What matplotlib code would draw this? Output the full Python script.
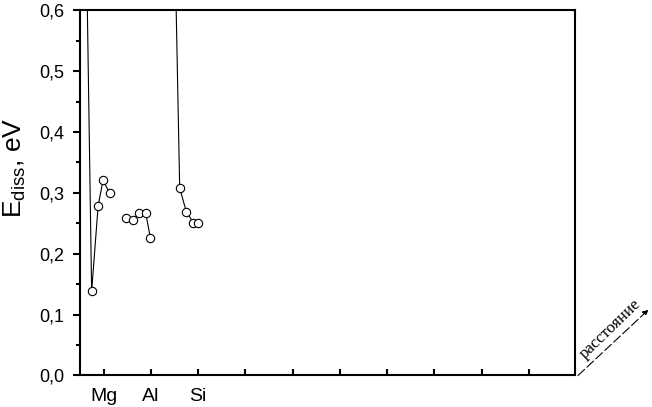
#!/usr/bin/env python3

# dissociation energy vs distance for Mg, Al, Si

import matplotlib
matplotlib.use("Agg")
import matplotlib.pyplot as plt
from matplotlib.ticker import MultipleLocator, FuncFormatter

plt.rcParams['font.family'] = ['Liberation Sans', 'DejaVu Sans']
plt.rcParams['mathtext.default'] = 'regular'

# first point of Mg and Si groups lies above the plotted range
mg_x = [0.61, 0.746, 0.884, 0.989, 1.127]
mg_y = [0.83, 0.138, 0.279, 0.321, 0.299]

al_x = [1.48, 1.63, 1.74, 1.89, 1.99]
al_y = [0.259, 0.255, 0.267, 0.267, 0.226]

si_x = [2.48, 2.61, 2.75, 2.90, 2.99]
si_y = [0.82, 0.308, 0.269, 0.251, 0.250]

tick_pos = list(range(1, 11))
tick_labels = ["Mg", "Al", "Si"] + [""] * 7

fig = plt.figure(figsize=(6.52, 4.07), dpi=100)
ax = fig.add_axes([0.122, 0.0774, 0.76, 0.8976])

for xs, ys in [(mg_x, mg_y), (al_x, al_y), (si_x, si_y)]:
	ax.plot(xs, ys, color="black", linewidth=0.8, marker="o", markersize=6,
		markerfacecolor="white", markeredgecolor="black", markeredgewidth=0.8)

ax.set_xlim(0.49, 10.98)
ax.set_ylim(0.0, 0.6)

ax.set_xticks(tick_pos)
ax.set_xticklabels(tick_labels)
ax.yaxis.set_major_locator(MultipleLocator(0.1))
ax.yaxis.set_minor_locator(MultipleLocator(0.05))
ax.yaxis.set_major_formatter(FuncFormatter(lambda v, p: ("%.1f" % v).replace(".", ",")))

for s in ax.spines.values():
	s.set_linewidth(1.5)

ax.tick_params(axis="x", direction="in", length=4.5, width=1.5, labelsize=14, pad=9)
ax.tick_params(axis="y", which="major", direction="out", length=5, width=1.5, labelsize=13, pad=6)
ax.tick_params(axis="y", which="minor", direction="out", length=3, width=1.5)

ax.set_ylabel(r"E$_{diss}$, eV", fontsize=19)
ax.yaxis.set_label_coords(-0.104, 0.568)

# distance arrow beyond the lower right corner
ax.annotate("", xy=(1.148, 0.18), xytext=(1.006, 0.0), xycoords="axes fraction",
	textcoords="axes fraction", annotation_clip=False,
	arrowprops=dict(arrowstyle="-|>", color="black", lw=0.8, linestyle=(0, (8, 3)),
		mutation_scale=8, shrinkA=0, shrinkB=0))
ax.text(1.072, 0.127, "расстояние", transform=ax.transAxes, rotation=44,
	rotation_mode="anchor", ha="center", va="center", fontsize=12,
	family=["Liberation Serif", "DejaVu Serif"], clip_on=False)

plt.savefig("out.png", dpi=100)
plt.close()
